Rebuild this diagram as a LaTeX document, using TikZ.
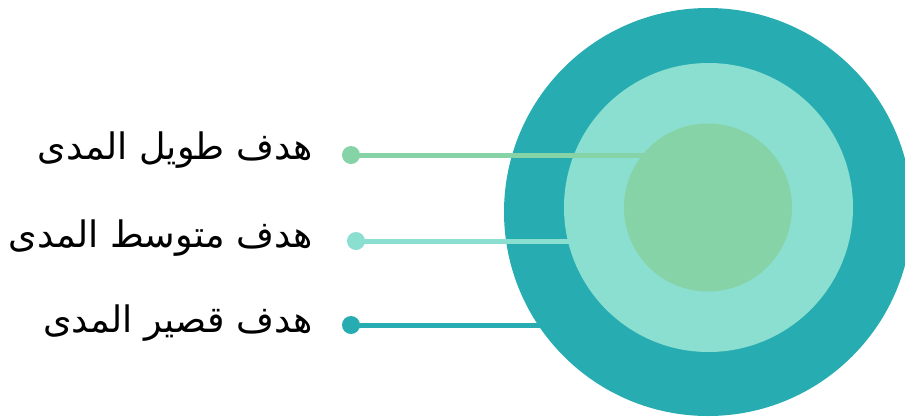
\documentclass[tikz,border=0pt]{standalone}
\usepackage{fontspec}
\TeXXeTstate=1
\newfontfamily\arabicfont[Script=Arabic]{DejaVu Sans}
\definecolor{ringOuter}{HTML}{27ADB1}
\definecolor{ringMid}{HTML}{8BDFD0}
\definecolor{ringInner}{HTML}{86D3A7}
\tikzset{
  ring/.style={circle, inner sep=0pt, draw=none},
  dotnode/.style={circle, inner sep=0pt, minimum size=18pt, draw=none},
  link/.style={line width=5pt},
  goal/.style={anchor=base east, inner sep=0pt, font=\arabicfont\fontsize{36.5}{42}\selectfont}
}
\begin{document}
\begin{tikzpicture}[x=1pt, y=-1pt]
  \useasboundingbox (0,0) rectangle (905,416);
  % concentric rings
  \node[ring, fill=ringOuter, minimum size=408pt] (outer) at (708,212) {};
  \node[ring, fill=ringMid, minimum size=289pt] (mid) at (708.5,207.5) {};
  % end points of the leader lines on the ring edges
  \coordinate (eLong) at (646,155);
  \coordinate (eMid) at (570,241);
  \coordinate (eShort) at (541,325);
  % leader dots
  \node[dotnode, fill=ringInner] (dLong) at (351,155) {};
  \node[dotnode, fill=ringMid] (dMid) at (356,241) {};
  \node[dotnode, fill=ringOuter] (dShort) at (351,325) {};
  \draw[link, draw=ringInner] (dLong.center) -- (eLong);
  \draw[link, draw=ringMid] (dMid.center) -- (eMid);
  \draw[link, draw=ringOuter] (dShort.center) -- (eShort);
  \node[ring, fill=ringInner, minimum size=168pt] (inner) at (708,207.5) {};
  % labels
  \node[goal] (tLong) at (313,159) {\beginR هدف طويل المدى\endR};
  \node[goal] (tMid) at (313,247) {\beginR هدف متوسط المدى\endR};
  \node[goal] (tShort) at (313,332) {\beginR هدف قصير المدى\endR};
\end{tikzpicture}
\end{document}
